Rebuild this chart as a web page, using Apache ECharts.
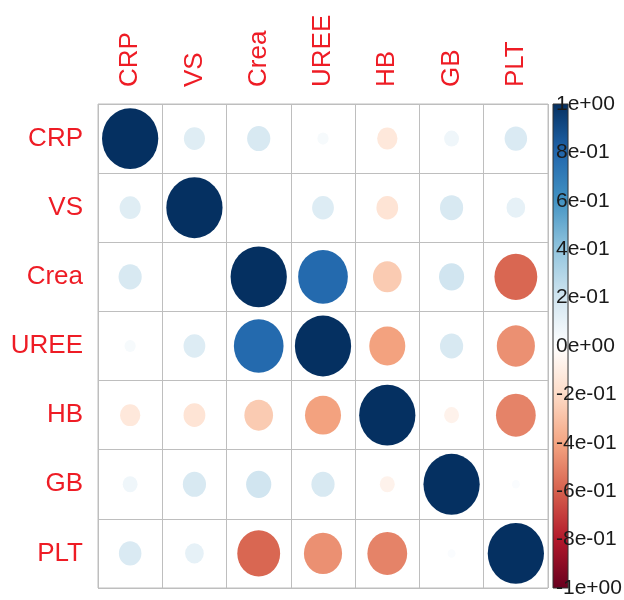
<!DOCTYPE html>
<html>
<head>
<meta charset="utf-8">
<script src="https://cdn.jsdelivr.net/npm/echarts@6/dist/echarts.min.js"></script>
<style>html,body{margin:0;padding:0;background:#fff;}#c{width:624px;height:600px;}</style>
</head>
<body>
<div id="c"></div>
<script>
// ---- data ----
const variables = ['CRP', 'VS', 'Crea', 'UREE', 'HB', 'GB', 'PLT'];
const rowCRP  = [1.00, 0.14, 0.17, 0.04, -0.13, 0.07, 0.16];
const rowVS   = [0.14, 1.00, 0.00, 0.15, -0.15, 0.17, 0.11];
const rowCrea = [0.17, 0.00, 1.00, 0.78, -0.26, 0.20, -0.58];
const rowUREE = [0.04, 0.15, 0.78, 1.00, -0.41, 0.17, -0.46];
const rowHB   = [-0.13, -0.15, -0.26, -0.41, 1.00, -0.07, -0.50];
const rowGB   = [0.07, 0.17, 0.20, 0.17, -0.07, 1.00, 0.02];
const rowPLT  = [0.16, 0.11, -0.58, -0.46, -0.50, 0.02, 1.00];
const colorTicks = [-1, -0.8, -0.6, -0.4, -0.2, 0, 0.2, 0.4, 0.6, 0.8, 1];
const colorTickLabels = ['-1e+00', '-8e-01', '-6e-01', '-4e-01', '-2e-01', '0e+00', '2e-01', '4e-01', '6e-01', '8e-01', '1e+00'];

const rows = [rowCRP, rowVS, rowCrea, rowUREE, rowHB, rowGB, rowPLT];
const palette = ['#67001F', '#B2182B', '#D6604D', '#F4A582', '#FDDBC7', '#FFFFFF', '#D1E5F0', '#92C5DE', '#4393C3', '#2166AC', '#053061'];

const cellData = [];
rows.forEach((r, i) => r.forEach((v, j) => cellData.push([j, i, v])));

const chart = echarts.init(document.getElementById('c'), null, {renderer: 'canvas'});
const labelRed = '#EE1C25';
const fontFam = '"Liberation Sans", Arial, sans-serif';

chart.setOption({
  animation: false,
  backgroundColor: '#ffffff',
  grid: [
    {left: 98, top: 104, width: 450, height: 484, show: true, borderColor: '#BEBEBE', borderWidth: 1},
    {left: 553, top: 104, width: 16, height: 484}
  ],
  xAxis: [
    {
      type: 'category', data: variables, position: 'top', gridIndex: 0,
      axisLine: {show: false}, axisTick: {show: false},
      splitLine: {show: true, lineStyle: {color: '#BEBEBE', width: 1}},
      axisLabel: {rotate: -90, margin: 17, color: labelRed, fontSize: 26, fontFamily: fontFam, interval: 0}
    },
    {type: 'value', gridIndex: 1, min: 0, max: 1, show: false}
  ],
  yAxis: [
    {
      type: 'category', data: variables, inverse: true, gridIndex: 0,
      axisLine: {show: false}, axisTick: {show: false},
      splitLine: {show: true, lineStyle: {color: '#BEBEBE', width: 1}},
      axisLabel: {margin: 15, color: labelRed, fontSize: 26, fontFamily: fontFam, interval: 0}
    },
    {
      type: 'value', gridIndex: 1, min: -1, max: 1, interval: 0.2, z: 20,
      axisLine: {show: false}, axisTick: {show: false}, splitLine: {show: false},
      axisLabel: {
        inside: true, margin: 3, color: '#1a1a1a', fontSize: 21, fontFamily: fontFam,
        formatter: function (v) {
          for (let k = 0; k < colorTicks.length; k++) {
            if (Math.abs(colorTicks[k] - v) < 1e-6) return colorTickLabels[k];
          }
          return '';
        }
      }
    }
  ],
  visualMap: {
    show: false, type: 'continuous', min: -1, max: 1, dimension: 2, seriesIndex: 0,
    inRange: {color: palette}
  },
  series: [
    {
      type: 'custom', xAxisIndex: 0, yAxisIndex: 0,
      data: cellData,
      encode: {x: 0, y: 1},
      renderItem: function (params, api) {
        const c = api.coord([api.value(0), api.value(1)]);
        const sz = api.size([1, 1]);
        const v = api.value(2);
        const s = Math.sqrt(Math.abs(v));
        const rx = 0.875 * sz[0] / 2 * s;
        const ry = 0.88 * sz[1] / 2 * s;
        if (rx <= 0) return null;
        const col = api.visual('color');
        return {
          type: 'circle',
          x: c[0], y: c[1],
          scaleY: ry / rx,
          shape: {cx: 0, cy: 0, r: rx},
          style: {fill: col, stroke: null}
        };
      }
    },
    {
      type: 'custom', xAxisIndex: 1, yAxisIndex: 1, z: 1,
      data: [[0, -1, 1]],
      renderItem: function (params, api) {
        const p0 = api.coord([0, 1]);
        const p1 = api.coord([1, -1]);
        const stops = palette.map((c, k) => ({offset: 1 - k / (palette.length - 1), color: c}));
        return {
          type: 'rect',
          shape: {x: p0[0], y: p0[1], width: p1[0] - p0[0], height: p1[1] - p0[1]},
          style: {
            fill: new echarts.graphic.LinearGradient(0, 0, 0, 1, stops.slice().reverse()),
            stroke: '#333333', lineWidth: 1
          }
        };
      }
    }
  ]
});
</script>
</body>
</html>
